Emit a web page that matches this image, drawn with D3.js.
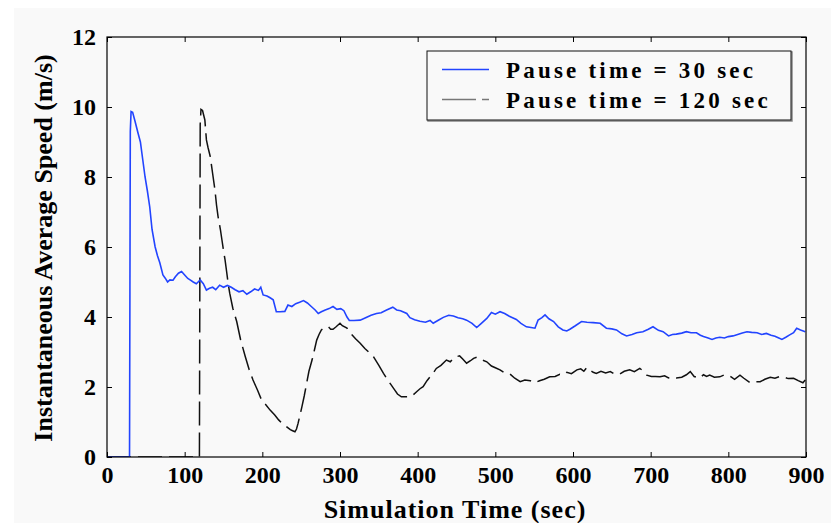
<!DOCTYPE html>
<html>
<head>
<meta charset="utf-8">
<script src="https://cdn.jsdelivr.net/npm/d3@7"></script>
<style>
  body { margin: 0; background: #fff; }
</style>
</head>
<body>
<svg id="chart" width="831" height="523"></svg>
<script>
// pause time = 30 sec (blue, solid)
var t30 = [0, 29, 30, 31, 33, 36, 40, 43, 46, 49, 52, 55, 58, 62, 65, 68, 72, 75, 78, 81, 85, 88, 92, 96, 100, 104, 107, 111, 115, 120,
  124, 128, 132, 136, 140, 145, 150, 155, 160, 165, 170, 175, 180, 185, 190, 195, 198, 201, 206, 210, 214, 218, 223, 229, 233, 238,
  243, 248, 253, 258, 263, 268, 272, 276, 281, 286, 291, 296, 301, 305, 309, 312, 318, 326, 333, 340, 347, 353, 360, 368, 373, 378,
  386, 390, 396, 403, 410, 416, 420, 426, 433, 440, 446, 452, 458, 463, 470, 476, 482, 489, 495, 500, 506, 512, 518, 527, 533, 540,
  546, 551, 555, 560, 564, 569, 575, 581, 587, 592, 596, 603, 611, 618, 626, 635, 643, 650, 656, 663, 669, 676, 682, 690, 697, 703,
  710, 716, 723, 728, 733, 740, 746, 752, 759, 764, 768, 774, 779, 784, 789, 795, 800, 806, 812, 818, 824, 830, 837, 843, 849, 855,
  860, 865, 869, 874, 879, 884, 888, 893, 899];
var v30 = [0, 0, 9.3, 9.87, 9.85, 9.6, 9.25, 9.0, 8.5, 8.0, 7.6, 7.15, 6.5, 6.0, 5.75, 5.55, 5.2, 5.11, 5.0, 5.06, 5.05, 5.15, 5.25, 5.3, 5.2, 5.1, 5.06, 5.0, 4.95, 5.06,
  4.95, 4.77, 4.82, 4.85, 4.78, 4.91, 4.85, 4.9, 4.85, 4.78, 4.72, 4.75, 4.65, 4.72, 4.8, 4.76, 4.85, 4.63, 4.6, 4.55, 4.49, 4.15, 4.15, 4.16, 4.34, 4.3,
  4.38, 4.42, 4.47, 4.4, 4.3, 4.2, 4.1, 4.15, 4.2, 4.24, 4.3, 4.22, 4.24, 4.18, 4.0, 3.9, 3.9, 3.91, 3.98, 4.05, 4.1, 4.12, 4.2, 4.28, 4.2, 4.18,
  4.1, 3.98, 3.92, 3.88, 3.85, 3.9, 3.82, 3.9, 3.99, 4.05, 4.03, 3.98, 3.95, 3.91, 3.82, 3.7, 3.82, 3.96, 4.13, 4.08, 4.15, 4.1, 4.02, 3.93, 3.82, 3.72,
  3.7, 3.68, 3.91, 3.98, 4.06, 3.95, 3.87, 3.72, 3.63, 3.6, 3.65, 3.75, 3.87, 3.85, 3.84, 3.82, 3.68, 3.66, 3.63, 3.52, 3.46, 3.5, 3.55, 3.58, 3.65, 3.72,
  3.62, 3.58, 3.46, 3.5, 3.51, 3.54, 3.58, 3.55, 3.55, 3.48, 3.44, 3.4, 3.36, 3.4, 3.42, 3.4, 3.44, 3.46, 3.5, 3.54, 3.58, 3.56, 3.55, 3.5, 3.53, 3.48,
  3.45, 3.4, 3.36, 3.42, 3.49, 3.55, 3.68, 3.63, 3.58];

// pause time = 120 sec (black, dashed)
var t120 = [0, 119, 120, 121, 123, 126, 128, 130, 133, 136, 139, 141, 143, 146, 148, 150, 152, 154, 156, 158, 162, 167, 172, 178, 183,
  188, 194, 199, 205, 210, 216, 221, 226, 231, 236, 239, 242, 244, 246, 248, 251, 254, 257, 260, 264, 267, 270, 273, 276, 280, 285,
  288, 291, 295, 300, 303, 309, 315, 320, 326, 332, 338, 343, 350, 356, 362, 369, 374, 379, 385, 390, 394, 399, 403, 407, 412, 416,
  420, 424, 430, 437, 442, 447, 454, 458, 463, 468, 472, 476, 482, 489, 495, 500, 506, 512, 519, 525, 532, 538, 545, 551, 557, 563,
  570, 577, 583, 587, 592, 598, 605, 610, 614, 618, 622, 626, 630, 636, 642, 648, 654, 660, 666, 673, 679, 686, 691, 695, 701, 706,
  712, 718, 723, 727, 733, 740, 746, 751, 756, 763, 768, 772, 776, 782, 789, 795, 802, 808, 815, 820, 828, 835, 841, 847, 854, 860,
  866, 871, 877, 884, 890, 896, 899];
var v120 = [0, 0, 9.5, 9.93, 9.9, 9.63, 9.06, 8.85, 8.58, 8.1, 7.63, 7.2, 6.87, 6.5, 6.2, 5.9, 5.63, 5.3, 4.96, 4.68, 4.25, 3.87, 3.35, 2.87, 2.5,
  2.2, 1.9, 1.63, 1.48, 1.34, 1.2, 1.06, 0.95, 0.87, 0.78, 0.75, 0.72, 0.8, 0.96, 1.15, 1.44, 1.75, 2.1, 2.45, 2.77, 3.05, 3.34, 3.5, 3.63, 3.7, 3.72,
  3.65, 3.65, 3.72, 3.82, 3.75, 3.68, 3.5, 3.38, 3.25, 3.1, 2.98, 2.87, 2.62, 2.39, 2.18, 1.96, 1.8, 1.72, 1.72, 1.72, 1.77, 1.87, 1.95, 2.01, 2.18, 2.29,
  2.4, 2.53, 2.62, 2.77, 2.72, 2.85, 2.89, 2.8, 2.68, 2.75, 2.82, 2.85, 2.78, 2.72, 2.6, 2.55, 2.49, 2.4, 2.37, 2.25, 2.15, 2.2, 2.18, 2.12, 2.18, 2.22,
  2.29, 2.3, 2.36, 2.34, 2.42, 2.38, 2.49, 2.52, 2.45, 2.56, 2.48, 2.42, 2.39, 2.45, 2.4, 2.44, 2.36, 2.37, 2.45, 2.49, 2.44, 2.53, 2.45, 2.34, 2.3, 2.3,
  2.29, 2.32, 2.26, 2.29, 2.26, 2.28, 2.35, 2.44, 2.3, 2.25, 2.35, 2.3, 2.34, 2.28, 2.29, 2.35, 2.31, 2.22, 2.34, 2.25, 2.12, 2.15, 2.15, 2.22, 2.28, 2.25,
  2.3, 2.29, 2.24, 2.25, 2.18, 2.12, 2.2];

var xTicks = [0, 100, 200, 300, 400, 500, 600, 700, 800, 900];
var yTicks = [0, 2, 4, 6, 8, 10, 12];
var legendLabels = ["Pause time = 30 sec", "Pause time = 120 sec"];

var serif = "'Times New Roman', 'Liberation Serif', Times, 'DejaVu Serif', serif";

var svg = d3.select("#chart");
var left = 107, top_ = 37, right = 806, bottom = 457;

svg.append("rect").attr("x", 14).attr("y", 8).attr("width", 817).attr("height", 515).attr("fill", "#f9f9f9");

var x = d3.scaleLinear().domain([0, 900]).range([left, right]);
var y = d3.scaleLinear().domain([0, 12]).range([bottom, top_]);

svg.append("defs").append("clipPath").attr("id", "clip")
  .append("rect").attr("x", left).attr("y", top_ - 1).attr("width", right - left).attr("height", bottom - top_ + 1);

var line = d3.line().x(function (d) { return x(d[0]); }).y(function (d) { return y(d[1]); });

var lines = svg.append("g").attr("clip-path", "url(#clip)");
lines.append("path").datum(d3.zip(t120, v120))
  .attr("d", line).attr("fill", "none").attr("stroke", "#111").attr("stroke-width", 1.5)
  .attr("stroke-dasharray", "24,7");
lines.append("path").datum(d3.zip(t30, v30))
  .attr("d", line).attr("fill", "none").attr("stroke", "#2244ff").attr("stroke-width", 1.6);

function setFont(sel, size) {
  sel.style("font-family", serif).style("font-weight", "bold").style("font-size", size + "px").style("fill", "#000");
}

// axes: ticks pointing inward on all four sides
function styleAxis(g) {
  g.attr("font-family", null).attr("font-size", null);
  g.select(".domain").remove();
  g.selectAll(".tick line").attr("stroke", "#000").attr("stroke-width", 1);
  setFont(g.selectAll("text"), 24);
}
svg.append("g").attr("transform", `translate(0,${bottom})`)
  .call(d3.axisBottom(x).tickValues(xTicks).tickSizeInner(-5).tickPadding(9).tickFormat(d3.format("d")))
  .call(styleAxis);
svg.append("g").attr("transform", `translate(0,${top_})`)
  .call(d3.axisTop(x).tickValues(xTicks).tickSizeInner(-5).tickFormat(""))
  .call(styleAxis);
svg.append("g").attr("transform", `translate(${left},0)`)
  .call(d3.axisLeft(y).tickValues(yTicks).tickSizeInner(-5).tickPadding(11).tickFormat(d3.format("d")))
  .call(styleAxis);
svg.append("g").attr("transform", `translate(${right},0)`)
  .call(d3.axisRight(y).tickValues(yTicks).tickSizeInner(-5).tickFormat(""))
  .call(styleAxis);

svg.append("rect").attr("x", left).attr("y", top_).attr("width", right - left).attr("height", bottom - top_)
  .attr("fill", "none").attr("stroke", "#000").attr("stroke-width", 1.2);

// axis titles
svg.append("text").attr("x", 455).attr("y", 518).attr("text-anchor", "middle")
  .attr("letter-spacing", 1).text("Simulation Time (sec)").call(setFont, 26);
svg.append("text").attr("transform", "translate(52,248) rotate(-90)").attr("text-anchor", "middle")
  .text("Instantaneous Average Speed (m/s)").call(setFont, 26);

// legend
var lg = svg.append("g");
lg.append("rect").attr("x", 428).attr("y", 52).attr("width", 364).attr("height", 69).attr("fill", "none").attr("stroke", "#888").attr("stroke-width", 1.5);
lg.append("rect").attr("x", 427).attr("y", 51).attr("width", 364).attr("height", 69).attr("fill", "#f9f9f9").attr("stroke", "#111").attr("stroke-width", 1);
var rowY = [69.5, 99.5];
lg.append("line").attr("x1", 442).attr("x2", 489).attr("y1", rowY[0]).attr("y2", rowY[0]).attr("stroke", "#2244ff").attr("stroke-width", 1.4);
lg.append("line").attr("x1", 442).attr("x2", 489).attr("y1", rowY[1]).attr("y2", rowY[1]).attr("stroke", "#777").attr("stroke-width", 1.4).attr("stroke-dasharray", "34,6");
lg.selectAll("text.lab").data(legendLabels).enter().append("text").attr("class", "lab")
  .attr("x", 506).attr("y", function (d, i) { return rowY[i] + 8; })
  .attr("letter-spacing", 3.2).text(function (d) { return d; })
  .call(setFont, 23);
</script>
</body>
</html>
